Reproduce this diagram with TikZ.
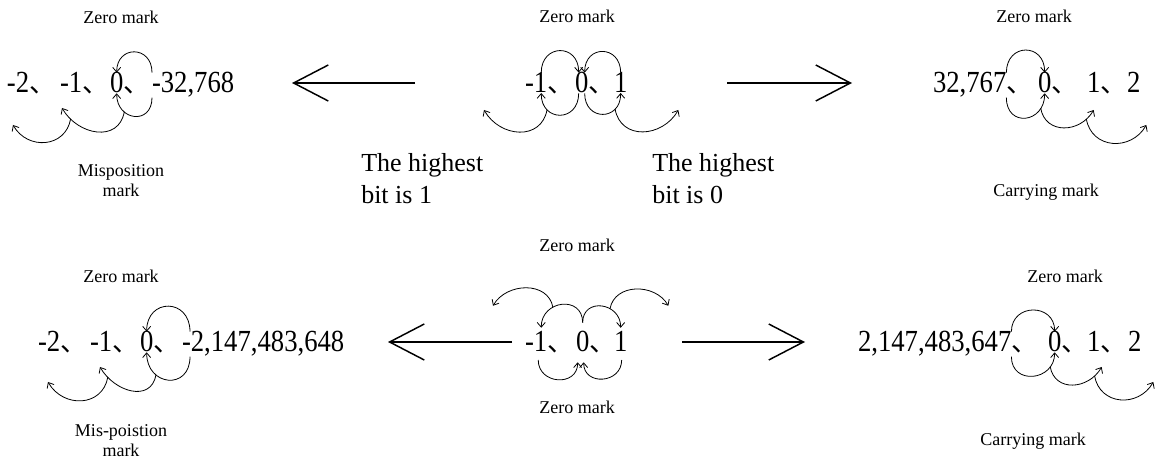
\documentclass[tikz,border=0pt]{standalone}
\usepackage{fontspec}
\setmainfont{Liberation Serif}
\newfontfamily\numfont[FakeStretch=0.87]{Liberation Serif}
\newfontfamily\cjk{Noto Sans CJK SC}
\usetikzlibrary{calc,arrows.meta}

\begin{document}
\begin{tikzpicture}[
    x=0.75pt, y=0.75pt,
    num/.style={inner sep=0pt, outer sep=0pt, anchor=base west, font=\numfont\fontsize{23}{26}\selectfont},
    dun/.style={inner sep=0pt, outer sep=0pt, anchor=base west, font=\cjk\fontsize{20}{24}\selectfont},
    note/.style={inner sep=0pt, align=center, font=\fontsize{13.5}{15}\selectfont},
    hint/.style={inner sep=0pt, align=left, anchor=north west, font=\fontsize{19.5}{24}\selectfont},
    hop/.style={-{Straight Barb[length=3.5pt,width=6pt]}, line width=0.6pt},
    bigarrow/.style={-{Straight Barb[length=26pt,width=27pt]}, line width=1.1pt}
]
\useasboundingbox (0,0) rectangle (1156,-459);

% Row 1, left: highest bit is 1
\node[num] (tlA) at (7,-93) {-2};
\node[dun] (tlA1) at (tlA.base east) {、};
\node[num] (tlB) at (60,-93) {-1};
\node[dun] (tlB1) at (tlB.base east) {、};
\node[num] (tlZ) at (110,-93) {0};
\node[dun] (tlZ1) at (tlZ.base east) {、};
\node[num] (tlM) at (152,-93) {-32,768};
\node[note, anchor=base] (tlzero) at (121,-24) {Zero mark};
\node[note, anchor=north] (tlmis) at (121,-164) {Misposition\\mark};
\draw[hop] (tlM.north west) to[out=90,in=90,looseness=2] (tlZ.north);
\draw[hop] (tlM.south west) to[out=-90,in=-90,looseness=2] node[coordinate,pos=.7] (tlk1) {} (tlZ.south);
\draw[hop] (tlk1) to[out=-100,in=-60,looseness=1.3] node[coordinate,pos=.85] (tlk2) {} ($(tlB.south west)+(2,-15)$);
\draw[hop] (tlk2) to[out=-100,in=-60,looseness=1.3] ($(tlA.south west)+(6,-32)$);

% Row 1, middle
\node[num] (tmB) at (525,-93) {-1};
\node[dun] (tmB1) at (tmB.base east) {、};
\node[num] (tmZ) at (575,-93) {0};
\node[dun] (tmZ1) at (tmZ.base east) {、};
\node[num] (tmC) at (614,-93) {1};
\node[note, anchor=base] (tmzero) at (577,-23) {Zero mark};
\draw[hop] ($(tmB.north east)+(-6,0)$) to[out=90,in=90,looseness=2] ($(tmZ.north)+(-3,0)$);
\draw[hop] (tmC.north) to[out=90,in=90,looseness=2] ($(tmZ.north)+(3,0)$);
\draw[hop] ($(tmZ.south)+(-3,0)$) to[out=-90,in=-90,looseness=2] node[coordinate,pos=.75] (tmk1) {} ($(tmB.south east)+(-6,0)$);
\draw[hop] ($(tmZ.south)+(3,0)$) to[out=-90,in=-90,looseness=2] node[coordinate,pos=.75] (tmk2) {} (tmC.south);
\draw[hop] (tmk1) to[out=-100,in=-60,looseness=1.3] ($(tmB.south west)+(-41,-17)$);
\draw[hop] (tmk2) to[out=-80,in=-120,looseness=1.3] ($(tmC.south east)+(51,-17)$);

\node[hint] (hi1) at (361,-153) {The highest\\bit is 1};
\node[hint] (hi0) at (652,-153) {The highest\\bit is 0};

% Row 1, right: highest bit is 0
\node[num] (trM) at (933,-93) {32,767};
\node[dun] (trM1) at (trM.base east) {、};
\node[num] (trZ) at (1038,-93) {0};
\node[dun] (trZ1) at (trZ.base east) {、};
\node[num] (trC) at (1087,-93) {1};
\node[dun] (trC1) at (trC.base east) {、};
\node[num] (trD) at (1127,-93) {2};
\node[note, anchor=base] (trzero) at (1034,-23) {Zero mark};
\node[note, anchor=base] (trcarry) at (1046,-197) {Carrying mark};
\draw[hop] (trM.north east) to[out=90,in=90,looseness=2] (trZ.north);
\draw[hop] (trM.south east) to[out=-90,in=-90,looseness=2] node[coordinate,pos=.8] (trk1) {} (trZ.south);
\draw[hop] (trk1) to[out=-80,in=-120,looseness=1.3] node[coordinate,pos=.85] (trk2) {} ($(trC.south)+(0,-17)$);
\draw[hop] (trk2) to[out=-80,in=-120,looseness=1.3] ($(trD.south east)+(6,-32)$);

% Row 1 arrows
\coordinate (tlfrom) at (415,-83);
\coordinate (tlto) at (292,-83);
\coordinate (trfrom) at (727,-83);
\coordinate (trto) at (852,-83);
\draw[bigarrow] (tlfrom) -- (tlto);
\draw[bigarrow] (trfrom) -- (trto);

% Row 2, left
\node[num] (blA) at (38,-352) {-2};
\node[dun] (blA1) at (blA.base east) {、};
\node[num] (blB) at (90,-352) {-1};
\node[dun] (blB1) at (blB.base east) {、};
\node[num] (blZ) at (140,-352) {0};
\node[dun] (blZ1) at (blZ.base east) {、};
\node[num] (blM) at (182,-352) {-2,147,483,648};
\node[note, anchor=base] (blzero) at (121,-283) {Zero mark};
\node[note, anchor=north] (blmis) at (121,-424) {Mis-poistion\\mark};
\draw[hop] ($(blM.north west)+(8,0)$) to[out=90,in=90,looseness=2] (blZ.north);
\draw[hop] ($(blM.south west)+(8,0)$) to[out=-90,in=-90,looseness=2] node[coordinate,pos=.7] (blk1) {} (blZ.south);
\draw[hop] (blk1) to[out=-100,in=-60,looseness=1.3] node[coordinate,pos=.85] (blk2) {} ($(blB.south west)+(10,-15)$);
\draw[hop] (blk2) to[out=-100,in=-60,looseness=1.3] ($(blA.south west)+(10,-30)$);

% Row 2, middle
\node[num] (bmB) at (525,-352) {-1};
\node[dun] (bmB1) at (bmB.base east) {、};
\node[num] (bmZ) at (576,-352) {0};
\node[dun] (bmZ1) at (bmZ.base east) {、};
\node[num] (bmC) at (614,-352) {1};
\node[note, anchor=base] (bmtop) at (577,-252) {Zero mark};
\node[note, anchor=base] (bmbot) at (577,-413) {Zero mark};
\draw[hop] ($(bmZ.north)+(0,9)$) to[out=90,in=90,looseness=1.7] node[coordinate,pos=.65] (bmk1) {} ($(bmB.north east)+(-6,4)$);
\draw[hop] ($(bmZ.north)+(0,9)$) to[out=90,in=90,looseness=1.7] node[coordinate,pos=.65] (bmk2) {} ($(bmC.north)+(0,4)$);
\draw[hop] (bmk1) to[out=100,in=60,looseness=1.15] ($(bmB.north west)+(-32,26)$);
\draw[hop] (bmk2) to[out=80,in=120,looseness=1.15] ($(bmC.north east)+(41,26)$);
\draw[hop] ($(bmB.south east)+(-9,-8)$) to[out=-90,in=-90,looseness=1.6] ($(bmZ.south)+(-5,-10)$);
\draw[hop] ($(bmC.south)+(1,-8)$) to[out=-90,in=-90,looseness=1.6] ($(bmZ.south)+(1,-10)$);

% Row 2, right
\node[num] (brM) at (858,-352) {2,147,483,647};
\node[dun] (brM1) at (brM.base east) {、};
\node[num] (brZ) at (1048,-352) {0};
\node[dun] (brZ1) at (brZ.base east) {、};
\node[num] (brC) at (1087,-352) {1};
\node[dun] (brC1) at (brC.base east) {、};
\node[num] (brD) at (1128,-352) {2};
\node[note, anchor=base] (brzero) at (1065,-283) {Zero mark};
\node[note, anchor=base] (brcarry) at (1033,-445) {Carrying mark};
\draw[hop] (brM.north east) to[out=90,in=90,looseness=1.7] (brZ.north);
\draw[hop] (brM.south east) to[out=-90,in=-90,looseness=1.7] node[coordinate,pos=.8] (brk1) {} (brZ.south);
\draw[hop] (brk1) to[out=-80,in=-120,looseness=1.3] node[coordinate,pos=.85] (brk2) {} ($(brC.south)+(8,-15)$);
\draw[hop] (brk2) to[out=-80,in=-120,looseness=1.3] ($(brD.south east)+(12,-30)$);

% Row 2 arrows
\coordinate (blfrom) at (512,-342);
\coordinate (blto) at (388,-342);
\coordinate (brfrom) at (682,-342);
\coordinate (brto) at (805,-342);
\draw[bigarrow] (blfrom) -- (blto);
\draw[bigarrow] (brfrom) -- (brto);

\end{tikzpicture}
\end{document}
